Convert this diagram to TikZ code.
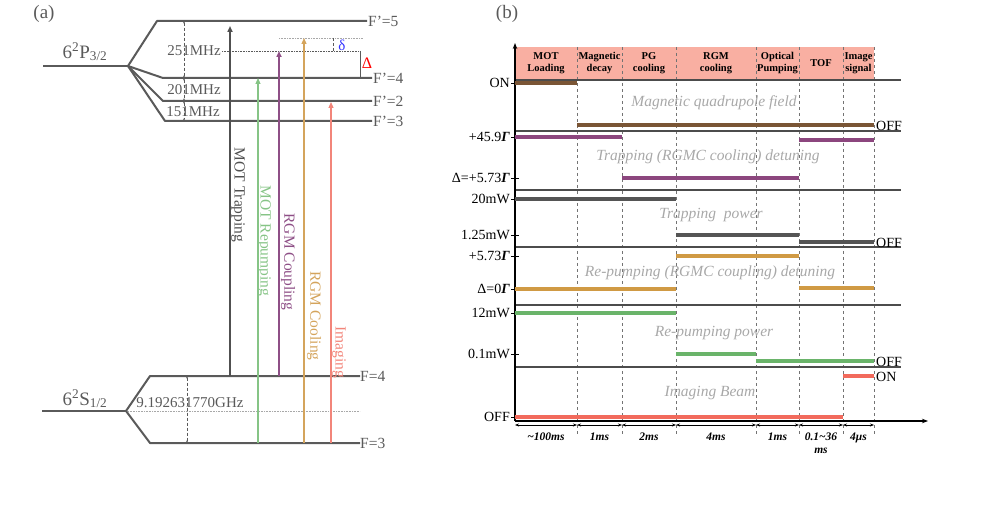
\documentclass[tikz,border=0pt]{standalone}
\usepackage{fontspec}
\setmainfont{Liberation Serif}
\usetikzlibrary{arrows.meta}

\definecolor{lev}{HTML}{5A5A5A}
\definecolor{trapc}{HTML}{505050}
\definecolor{repc}{HTML}{86C486}
\definecolor{coupc}{HTML}{8E4F86}
\definecolor{coolc}{HTML}{D4A45C}
\definecolor{imgc}{HTML}{F2857A}
\definecolor{magc}{HTML}{7A5535}
\definecolor{detc}{HTML}{8C467E}
\definecolor{powc}{HTML}{555555}
\definecolor{rdetc}{HTML}{D09A44}
\definecolor{rpowc}{HTML}{6AB46A}
\definecolor{beamc}{HTML}{F26A5C}
\definecolor{hdrc}{HTML}{F9AFA2}
\definecolor{faint}{HTML}{A8A8A8}

\tikzset{
  level/.style={draw=lev, line width=2pt},
  lvltext/.style={text=lev, font=\fontsize{15.5}{15.5}\selectfont, inner sep=1pt},
  split/.style={text=lev, font=\fontsize{15}{15}\selectfont, inner sep=0pt},
  beam/.style={line width=#1, -{Triangle[length=6pt,width=5pt]}},
  beamtext/.style={rotate=-90, font=\fontsize{15.5}{15.5}\selectfont, inner sep=0pt},
  gap/.style={densely dashed, draw=lev, line width=0.6pt,
              {Stealth[length=2.5pt]}-{Stealth[length=2.5pt]}},
  hdr/.style={font=\fontsize{10.5}{11.5}\selectfont\bfseries, align=center, inner sep=0pt},
  ylab/.style={anchor=east, font=\fontsize{14}{14}\selectfont, inner sep=1pt},
  endlab/.style={anchor=west, font=\fontsize{14}{14}\selectfont, inner sep=1pt},
  rowname/.style={text=faint, font=\fontsize{15.5}{15.5}\selectfont\itshape, inner sep=0pt},
  tlab/.style={font=\fontsize{11.5}{12.5}\selectfont\bfseries\itshape, align=center, inner sep=0pt},
  bar/.style={draw=#1, line width=3.5pt},
  sep/.style={draw=black!70, line width=1.1pt}
}

\newcommand{\Gam}{\textbf{\textit{Γ}}}

\begin{document}
\begin{tikzpicture}[x=1pt, y=-1pt]
\useasboundingbox (0,0) rectangle (987,510);

% ---------------- (a) level scheme ----------------
\node[font=\fontsize{19}{19}\selectfont, text=lev] (taga) at (44,14) {(a)};

\coordinate (p0) at (43,66);
\coordinate (pc) at (128,66);
\coordinate (f5a) at (157,21);  \coordinate (f5b) at (367,21);
\coordinate (f4a) at (163,78);  \coordinate (f4b) at (372,78);
\coordinate (f2a) at (163,101); \coordinate (f2b) at (372,101);
\coordinate (f3a) at (165,121); \coordinate (f3b) at (372,121);
\draw[level] (p0) -- (pc);
\foreach \a/\b in {f5a/f5b, f4a/f4b, f2a/f2b, f3a/f3b} {
    \draw[level, line join=round] (pc) -- (\a) -- (\b);
}
\node[lvltext, anchor=west] (lf5) at (f5b) {F’=5};
\node[lvltext, anchor=west] (lf4) at (f4b) {F’=4};
\node[lvltext, anchor=west] (lf2) at (f2b) {F’=2};
\node[lvltext, anchor=west] (lf3) at (f3b) {F’=3};
\node[text=lev, font=\fontsize{19}{19}\selectfont, inner sep=0pt] (pname) at (85,52)
    {6\textsuperscript{2}P\textsubscript{3/2}};

\coordinate (g5) at (184,21);  \coordinate (g4) at (184,78);
\coordinate (g2) at (184,101); \coordinate (g3) at (184,121);
\draw[gap] (g5) -- (g4);
\draw[gap] (g4) -- (g2);
\draw[gap] (g2) -- (g3);
\node[split] (m251) at (194,51) {251MHz};
\node[split] (m201) at (194,90) {201MHz};
\node[split] (m151) at (193,112) {151MHz};

\coordinate (d1a) at (222,51); \coordinate (d1b) at (360,51);
\coordinate (d2a) at (279,38); \coordinate (d2b) at (363,38);
\draw[densely dotted, draw=lev, line width=0.6pt] (d1a) -- (d1b);
\draw[densely dotted, draw=faint, line width=0.6pt] (d2a) -- (d2b);
\coordinate (sd1) at (333,38); \coordinate (sd2) at (333,51);
\draw[densely dashed, draw=lev, line width=0.5pt] (sd1) -- (sd2);
\node[text=blue!80!white, font=\fontsize{15}{15}\selectfont] (delta) at (342,45) {δ};
\coordinate (bd1) at (360,51); \coordinate (bd2) at (360,78);
\draw[draw=lev, line width=0.5pt] (bd1) -- (bd2);
\node[text=red, font=\fontsize{16}{16}\selectfont] (Delta) at (367,63) {Δ};

\coordinate (s0) at (42,411);
\coordinate (sc) at (126,411);
\coordinate (e4a) at (150,376); \coordinate (e4b) at (360,376);
\coordinate (e3a) at (150,443); \coordinate (e3b) at (360,443);
\draw[level] (s0) -- (sc);
\draw[level, line join=round] (sc) -- (e4a) -- (e4b);
\draw[level, line join=round] (sc) -- (e3a) -- (e3b);
\node[lvltext, anchor=west, inner sep=0pt] (le4) at (e4b) {F=4};
\node[lvltext, anchor=west, inner sep=0pt] (le3) at (e3b) {F=3};
\node[text=lev, font=\fontsize{19}{19}\selectfont, inner sep=0pt] (sname) at (85,399)
    {6\textsuperscript{2}S\textsubscript{1/2}};
\coordinate (h1) at (128,411); \coordinate (h2) at (360,411);
\draw[densely dotted, draw=faint, line width=0.6pt] (h1) -- (h2);
\node[split] (ghz) at (190,403) {9.192631770GHz};
\coordinate (k4) at (187,376); \coordinate (k3) at (187,443);
\draw[gap] (k4) -- (k3);

% laser beams
\coordinate (tr0) at (230,376); \coordinate (tr1) at (230,26);
\coordinate (rp0) at (258,443); \coordinate (rp1) at (258,78);
\coordinate (cp0) at (279,376); \coordinate (cp1) at (279,51);
\coordinate (co0) at (304,443); \coordinate (co1) at (304,38);
\coordinate (im0) at (331,443); \coordinate (im1) at (331,102);
\draw[beam=1.6pt, draw=trapc, fill=trapc] (tr0) -- (tr1);
\draw[beam=1.1pt, draw=repc, fill=repc] (rp0) -- (rp1);
\draw[beam=1.8pt, draw=coupc, fill=coupc] (cp0) -- (cp1);
\draw[beam=1.2pt, draw=coolc, fill=coolc] (co0) -- (co1);
\draw[beam=1.2pt, draw=imgc, fill=imgc] (im0) -- (im1);
\node[beamtext, text=trapc] (ttrap) at (238,195) {MOT Trapping};
\node[beamtext, text=repc] (trep) at (264,241) {MOT Repumping};
\node[beamtext, text=coupc] (tcoup) at (288,262) {RGM Coupling};
\node[beamtext, text=coolc] (tcool) at (314,316) {RGM Cooling};
\node[beamtext, text=imgc] (timg) at (339,352) {Imaging};

% ---------------- (b) time sequence ----------------
\node[font=\fontsize{19}{19}\selectfont, text=lev] (tagb) at (507,14) {(b)};

\fill[hdrc] (515,47) rectangle (874,79);
\foreach \x in {577,622,676,756,799,843,874} {
    \draw[dashed, draw=black!55, line width=0.5pt] (\x,47) -- (\x,436);
}
\node[hdr] (h1) at (546,63) {MOT\\Loading};
\node[hdr] (h2) at (599.5,63) {Magnetic\\decay};
\node[hdr] (h3) at (649,63) {PG\\cooling};
\node[hdr] (h4) at (716,63) {RGM\\cooling};
\node[hdr] (h5) at (777.5,63) {Optical\\Pumping};
\node[hdr] (h6) at (821,63) {TOF};
\node[hdr] (h7) at (858.5,63) {Image\\signal};

\foreach \y in {80,131,190,247,305,367} {
    \draw[sep] (515,\y) -- (901,\y);
}

\coordinate (org) at (515,421);
\coordinate (ytop) at (515,43);
\coordinate (xend) at (928,421);
\draw[line width=1.1pt, -{Stealth[length=6pt]}] (org) -- (ytop);
\draw[line width=1.1pt, -{Stealth[length=6pt]}] (org) -- (xend);

% levels on the left axis
\foreach \y/\t [count=\i] in {83/ON, 137/+45.9\Gam, 178/Δ=+5.73\Gam, 199/20mW,
        235/1.25mW, 256/+5.73\Gam, 289/Δ=0\Gam, 313/12mW, 354/0.1mW, 417/OFF} {
    \draw[line width=0.8pt] (511,\y) -- (519,\y);
    \node[ylab] (y\i) at (511,\y) {\t};
}

% signal bars
\foreach \xa/\xb/\y/\c in {515/577/83/magc, 577/874/125/magc,
        515/622/137/detc, 622/799/178/detc, 799/874/140/detc,
        515/676/199/powc, 676/799/235/powc, 799/874/242/powc,
        676/799/256/rdetc, 515/676/289/rdetc, 799/874/288/rdetc,
        515/676/313/rpowc, 676/756/354/rpowc, 756/874/361/rpowc,
        515/843/417/beamc, 843/874/376/beamc} {
    \draw[bar=\c] (\xa,\y) -- (\xb,\y);
}
\node[endlab] (off1) at (875,126) {OFF};
\node[endlab] (off2) at (875,243) {OFF};
\node[endlab] (off3) at (875,362) {OFF};
\node[endlab] (on6) at (875,377) {ON};

\node[rowname] (r1) at (714,103) {Magnetic quadrupole field};
\node[rowname] (r2) at (708,157) {Trapping (RGMC cooling) detuning};
\node[rowname] (r3) at (711,215) {Trapping\ \ power};
\node[rowname] (r4) at (710,273) {Re-pumping (RGMC coupling) detuning};
\node[rowname] (r5) at (714,333) {Re-pumping power};
\node[rowname] (r6) at (710,393) {Imaging Beam};

% durations
\foreach \xa/\xb/\t [count=\i] in {515/577/\textasciitilde100ms, 577/622/1ms, 622/676/2ms,
        676/756/4ms, 756/799/1ms, 799/843/0.1\textasciitilde36\\ms, 843/874/4μs} {
    \coordinate (ta\i) at (\xa,425);
    \coordinate (tb\i) at (\xb,425);
    \draw[line width=0.8pt, {Stealth[length=4pt]}-{Stealth[length=4pt]}] (ta\i) -- (tb\i);
    \node[tlab, anchor=north] (tl\i) at ({(\xa+\xb)/2},433) {\t};
}
\end{tikzpicture}
\end{document}
